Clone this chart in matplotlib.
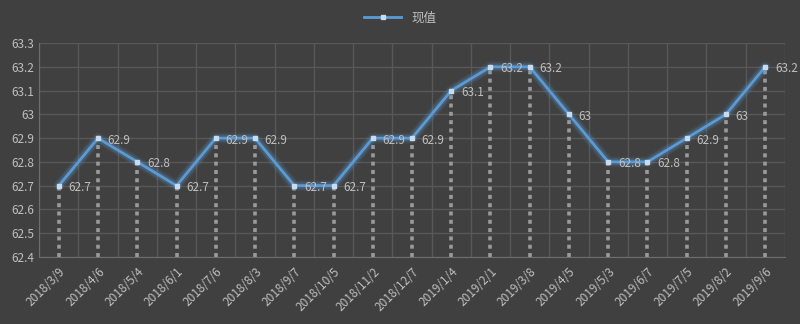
import matplotlib

matplotlib.use("Agg")
import matplotlib.pyplot as plt
import numpy as np

plt.rcParams["font.family"] = ["Noto Sans CJK SC", "DejaVu Sans"]

dates = [
    "2018/3/9", "2018/4/6", "2018/5/4", "2018/6/1", "2018/7/6", "2018/8/3",
    "2018/9/7", "2018/10/5", "2018/11/2", "2018/12/7", "2019/1/4", "2019/2/1",
    "2019/3/8", "2019/4/5", "2019/5/3", "2019/6/7", "2019/7/5", "2019/8/2",
    "2019/9/6",
]
values = [
    62.7, 62.9, 62.8, 62.7, 62.9, 62.9, 62.7, 62.7, 62.9, 62.9,
    63.1, 63.2, 63.2, 63.0, 62.8, 62.8, 62.9, 63.0, 63.2,
]
y_ticks = [62.4, 62.5, 62.6, 62.7, 62.8, 62.9, 63.0, 63.1, 63.2, 63.3]
series_name = "现值"

BG = "#404040"
GRID = "#585858"
TEXT = "#bfbfbf"
LINE = "#5b9bd5"

fig = plt.figure(figsize=(8, 3.24), dpi=100, facecolor=BG)
ax = fig.add_axes([0.049, 0.207, 0.932, 0.66])
ax.set_facecolor(BG)

x = np.arange(len(values))
ymin = y_ticks[0]

# drop lines
ax.vlines(x, ymin, values, colors="#9a9a9a", linewidth=2.6,
          linestyles=(0, (1.1, 1.2)), zorder=2)

# glow round the line
for lw, a in [(8, 0.08), (6, 0.12), (4.5, 0.18)]:
    ax.plot(x, values, color=LINE, linewidth=lw, alpha=a,
            solid_capstyle="round", solid_joinstyle="round", zorder=3)
line, = ax.plot(x, values, color=LINE, linewidth=2, marker="s",
                markersize=2.6, markerfacecolor="#c8dcee",
                markeredgecolor="#c8dcee", zorder=4, label=series_name)

for xi, v in zip(x, values):
    ax.annotate(f"{v:g}", (xi, v), xytext=(7, -4), textcoords="offset points",
                color=TEXT, fontsize=8.5, zorder=5)

ax.set_xlim(-0.5, len(values) - 0.5)
ax.set_ylim(y_ticks[0], y_ticks[-1])
ax.set_yticks(y_ticks)
ax.set_yticklabels([f"{t:g}" for t in y_ticks])
ax.set_xticks(x)
ax.set_xticklabels(dates, rotation=45, ha="right", rotation_mode="anchor")
ax.set_xticks(np.arange(len(values) + 1) - 0.5, minor=True)

ax.grid(False)
ax.grid(which="minor", axis="x", color=GRID, linewidth=1)
ax.grid(which="major", axis="y", color=GRID, linewidth=1)
ax.tick_params(which="both", length=0, colors=TEXT, labelsize=8.5)
ax.tick_params(axis="x", pad=6)
for s in ax.spines.values():
    s.set_visible(False)
for side in ("bottom", "left"):
    ax.spines[side].set_visible(True)
    ax.spines[side].set_color("#6e6e6e")

leg = fig.legend(handles=[line], loc="upper center", bbox_to_anchor=(0.5, 1.0),
                 frameon=False, fontsize=9, labelcolor=TEXT, handlelength=3)

fig.savefig("out.png", dpi=100, facecolor=BG)
